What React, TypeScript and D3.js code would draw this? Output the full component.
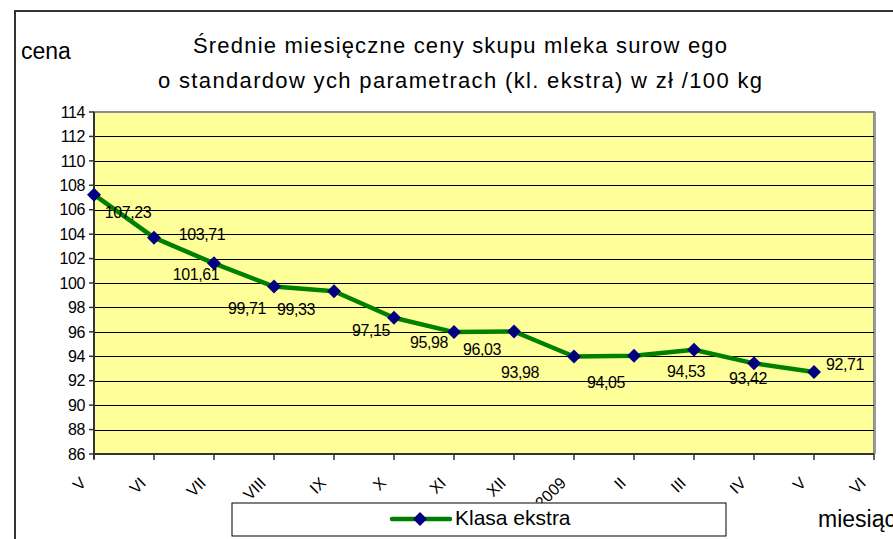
import * as React from 'react';
import * as d3 from 'd3';

const MONTHS = ['V', 'VI', 'VII', 'VIII', 'IX', 'X', 'XI', 'XII', 'I 2009', 'II', 'III', 'IV', 'V', 'VI'];
const PRICES = [107.23, 103.71, 101.61, 99.71, 99.33, 97.15, 95.98, 96.03, 93.98, 94.05, 94.53, 93.42, 92.71];
const Y_TICKS = [86, 88, 90, 92, 94, 96, 98, 100, 102, 104, 106, 108, 110, 112, 114];

// where Excel put each data label, relative to its point
const LABEL_OFFSETS: [number, number][] = [
  [34, 18], [48, -3], [-18, 11], [-27, 22], [-38, 18], [-23, 12], [-25, 10],
  [-32, 18], [-54, 16], [-28, 27], [-8, 21], [-6, 15], [31, -8],
];

const W = 893;
const H = 539;
const FONT = '"Liberation Sans", Arial, sans-serif';

const plot = { left: 94, right: 874, top: 112, bottom: 454 };

function diamond(cx: number, cy: number, r: number) {
  return `M${cx},${cy - r}L${cx + r},${cy}L${cx},${cy + r}L${cx - r},${cy}Z`;
}

export default function App() {
  const x = d3
    .scalePoint<number>()
    .domain(d3.range(MONTHS.length))
    .range([plot.left, plot.right]);
  const y = d3.scaleLinear().domain([86, 114]).range([plot.bottom, plot.top]);

  const line = d3
    .line<number>()
    .x((_, i) => x(i)!)
    .y((d) => y(d));

  const fmt = (v: number) => v.toFixed(2).replace('.', ',');

  return (
    <div style={{ position: 'absolute', left: 0, top: 0 }}>
      <svg width={W} height={H} style={{ display: 'block', fontFamily: FONT }}>
        <rect x={0} y={0} width={W} height={H} fill="#fff" />
        {/* chart frame */}
        <path d={`M15,${H}V11H${W}`} fill="none" stroke="#333" strokeWidth={2} />

        {/* title */}
        <text x={193} y={53} fontSize={22} textLength={534} lengthAdjust="spacing" fill="#000">
          Średnie miesięczne ceny skupu mleka surow ego
        </text>
        <text x={158} y={88} fontSize={22} textLength={604} lengthAdjust="spacing" fill="#000">
          o standardow ych parametrach (kl. ekstra) w  zł /100 kg
        </text>
        <text x={21} y={59} fontSize={23} fill="#000">
          cena
        </text>

        {/* plot area */}
        <rect
          x={plot.left}
          y={plot.top}
          width={plot.right - plot.left}
          height={plot.bottom - plot.top}
          fill="#FFFF99"
          stroke="#8c8c8c"
          strokeWidth={2}
        />
        {Y_TICKS.filter((t) => t > 86 && t < 114).map((t) => (
          <line
            key={t}
            x1={plot.left}
            x2={plot.right}
            y1={Math.round(y(t)) + 0.5}
            y2={Math.round(y(t)) + 0.5}
            stroke="#000"
            strokeWidth={1}
          />
        ))}
        <line x1={plot.right + 1} x2={plot.right + 1} y1={plot.top} y2={plot.bottom} stroke="#999" strokeWidth={2} />

        {/* y axis */}
        <line x1={plot.left} x2={plot.left} y1={plot.top} y2={plot.bottom + 5} stroke="#333" strokeWidth={2} />
        {Y_TICKS.map((t) => (
          <g key={t}>
            <line x1={plot.left - 5} x2={plot.left} y1={y(t)} y2={y(t)} stroke="#333" strokeWidth={1.5} />
            <text x={85} y={y(t)} dy="0.36em" textAnchor="end" fontSize={16} letterSpacing={-0.4} fill="#000">
              {t}
            </text>
          </g>
        ))}

        {/* x axis */}
        <line x1={plot.left} x2={plot.right} y1={plot.bottom} y2={plot.bottom} stroke="#333" strokeWidth={2} />
        {MONTHS.map((m, i) => (
          <g key={i}>
            <line x1={x(i)!} x2={x(i)!} y1={plot.bottom} y2={plot.bottom + 6} stroke="#333" strokeWidth={1.5} />
            <text
              transform={`translate(${x(i)! - 7},${plot.bottom + 30}) rotate(-45)`}
              textAnchor="end"
              fontSize={16}
              fill="#000"
            >
              {m}
            </text>
          </g>
        ))}

        {/* series */}
        <path d={line(PRICES) || ''} fill="none" stroke="#008000" strokeWidth={4.5} strokeLinejoin="round" />
        {PRICES.map((v, i) => (
          <path key={i} d={diamond(x(i)!, y(v), 7)} fill="#000080" />
        ))}
        {PRICES.map((v, i) => (
          <text
            key={i}
            x={x(i)! + LABEL_OFFSETS[i][0]}
            y={y(v) + LABEL_OFFSETS[i][1]}
            dy="0.36em"
            textAnchor="middle"
            fontSize={16}
            letterSpacing={-0.4}
            fill="#000"
          >
            {fmt(v)}
          </text>
        ))}

        {/* legend */}
        <rect x={232} y={503} width={494} height={33} fill="#fff" stroke="#000" strokeWidth={1} />
        <line x1={392} x2={450} y1={519} y2={519} stroke="#008000" strokeWidth={4.5} strokeLinecap="round" />
        <path d={diamond(420, 519, 7)} fill="#000080" />
        <text x={455} y={525} fontSize={21} fill="#000">
          Klasa ekstra
        </text>

        {/* axis name, cut by the right edge as in the original */}
        <text x={818} y={527} fontSize={23} fill="#000">
          miesiąc
        </text>
      </svg>
    </div>
  );
}
